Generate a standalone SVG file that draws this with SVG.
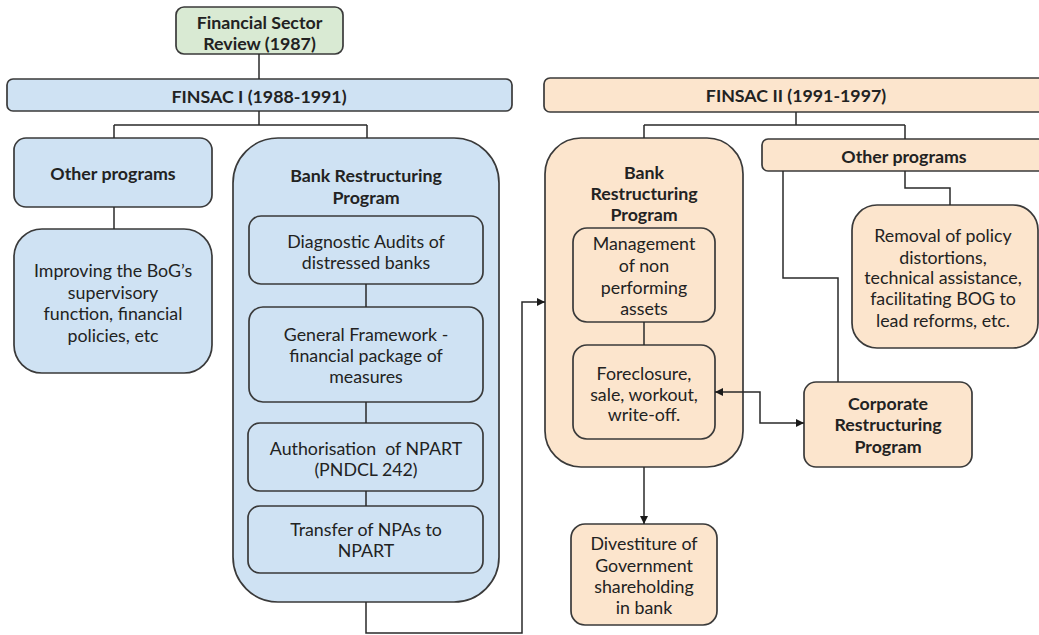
<svg xmlns="http://www.w3.org/2000/svg" width="1039" height="635" viewBox="0 0 1039 635">
<defs>
<style>
.box{stroke:#3a3a3a;stroke-width:1.7}
.blue{fill:#cfe2f3}
.orange{fill:#fce5cd}
.green{fill:#d9ead3}
text{font-family:Lato,"Open Sans","Liberation Sans",sans-serif;font-size:17.8px;fill:#222;text-anchor:middle;dominant-baseline:central}
.b{font-weight:bold}
.c{fill:none;stroke:#2a2a2a;stroke-width:1.5}
</style>
<marker id="ah" viewBox="0 0 10 10" refX="10" refY="5" markerWidth="8" markerHeight="8" markerUnits="userSpaceOnUse" orient="auto-start-reverse">
<path d="M0,0 L10,5 L0,10 z" fill="#1a1a1a"/>
</marker>
</defs>
<rect width="1039" height="635" fill="#ffffff"/>
<g id="review">
<rect class="box green" x="176" y="7" width="167" height="47" rx="8"/>
<text class="b" x="259.5" y="22">Financial Sector</text>
<text class="b" x="259.5" y="43">Review (1987)</text>
</g>
<g id="finsac1">
<rect class="box blue" x="7" y="79" width="505" height="32" rx="6"/>
<text class="b" x="259" y="96">FINSAC I (1988-1991)</text>
</g>
<g id="other1">
<rect class="box blue" x="14" y="138" width="198" height="69" rx="12"/>
<text class="b" x="113" y="173">Other programs</text>
</g>
<g id="improving">
<rect class="box blue" x="14" y="229" width="198" height="144" rx="28"/>
<text x="113" y="270">Improving the BoG’s</text>
<text x="113" y="292">supervisory</text>
<text x="113" y="313">function, financial</text>
<text x="113" y="335">policies, etc</text>
</g>
<g id="bank1">
<rect class="box blue" x="233" y="138" width="266" height="464" rx="45"/>
<text class="b" x="366" y="175">Bank Restructuring</text>
<text class="b" x="366" y="197">Program</text>
</g>
<g id="diagnostic">
<rect class="box blue" x="249" y="216" width="234" height="68" rx="12"/>
<text x="366" y="241">Diagnostic Audits of</text>
<text x="366" y="262">distressed banks</text>
</g>
<g id="framework">
<rect class="box blue" x="249" y="307" width="234" height="95" rx="14"/>
<text x="366" y="334">General Framework -</text>
<text x="366" y="355">financial package of</text>
<text x="366" y="376">measures</text>
</g>
<g id="authorisation">
<rect class="box blue" x="248" y="423" width="235" height="68" rx="12"/>
<text x="366" y="448" xml:space="preserve">Authorisation  of NPART</text>
<text x="366" y="469">(PNDCL 242)</text>
</g>
<g id="transfer">
<rect class="box blue" x="248" y="506" width="235" height="67" rx="12"/>
<text x="366" y="529">Transfer of NPAs to</text>
<text x="366" y="550">NPART</text>
</g>
<g id="finsac2">
<rect class="box orange" x="544" y="78" width="510" height="34" rx="6"/>
<text class="b" x="796" y="95">FINSAC II (1991-1997)</text>
</g>
<g id="bank2">
<rect class="box orange" x="545" y="138" width="198" height="329" rx="36"/>
<text class="b" x="644" y="172">Bank</text>
<text class="b" x="644" y="193">Restructuring</text>
<text class="b" x="644" y="214">Program</text>
</g>
<g id="management">
<rect class="box orange" x="573" y="228" width="142" height="94" rx="14"/>
<text x="644" y="243">Management</text>
<text x="644" y="265">of non</text>
<text x="644" y="287">performing</text>
<text x="644" y="308">assets</text>
</g>
<g id="foreclosure">
<rect class="box orange" x="573" y="345" width="142" height="94" rx="14"/>
<text x="644" y="373">Foreclosure,</text>
<text x="644" y="394">sale, workout,</text>
<text x="644" y="414">write-off.</text>
</g>
<g id="other2">
<rect class="box orange" x="762" y="139" width="290" height="32" rx="6"/>
<text class="b" x="904" y="156">Other programs</text>
</g>
<g id="removal">
<rect class="box orange" x="852" y="205" width="186" height="143" rx="25"/>
<text x="943" y="235">Removal of policy</text>
<text x="943" y="257">distortions,</text>
<text x="943" y="277">technical assistance,</text>
<text x="943" y="298">facilitating BOG to</text>
<text x="943" y="320">lead reforms, etc.</text>
</g>
<g id="corporate">
<rect class="box orange" x="804" y="382" width="168" height="85" rx="12"/>
<text class="b" x="888" y="403">Corporate</text>
<text class="b" x="888" y="424">Restructuring</text>
<text class="b" x="888" y="446">Program</text>
</g>
<g id="divestiture">
<rect class="box orange" x="571" y="524" width="146" height="101" rx="14"/>
<text x="644" y="543">Divestiture of</text>
<text x="644" y="565">Government</text>
<text x="644" y="586">shareholding</text>
<text x="644" y="607">in bank</text>
</g>
<g id="connectors">
<path class="c" d="M259,54 V79"/>
<path class="c" d="M259,111 V125 M114,125 H367 M114,125 V138 M367,125 V138"/>
<path class="c" d="M114,207 V229"/>
<path class="c" d="M366,284 V307 M366,402 V423 M366,491 V506"/>
<path class="c" d="M366,602 V633 H522 V302 H545" marker-end="url(#ah)"/>
<path class="c" d="M796,112 V125 M644,125 H905 M644,125 V138 M905,125 V139"/>
<path class="c" d="M644,322 V345"/>
<path class="c" d="M715,392 H760 V423 H804" marker-start="url(#ah)" marker-end="url(#ah)"/>
<path class="c" d="M783,171 V278 H838 V382"/>
<path class="c" d="M905,171 V188 H950 V205"/>
<path class="c" d="M644,467 V524" marker-end="url(#ah)"/>
</g>
</svg>
